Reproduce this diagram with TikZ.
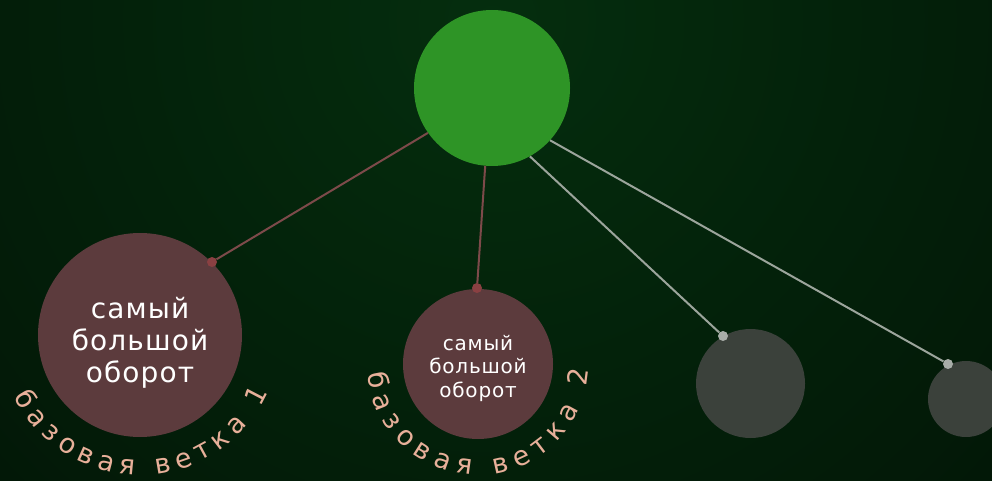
\documentclass[tikz,border=0pt]{standalone}
\usepackage{fontspec}
\setmainfont{DejaVu Sans}
\newfontfamily\labfont[LetterSpace=4]{DejaVu Sans}
\newfontfamily\arcfont{DejaVu Sans}
\usetikzlibrary{decorations.text,calc}
\definecolor{bgA}{HTML}{052E0E}
\definecolor{bgB}{HTML}{03210A}
\definecolor{bgC}{HTML}{021105}
\definecolor{bgD}{HTML}{010602}
\definecolor{greenc}{HTML}{2E9426}
\definecolor{maroonc}{HTML}{5C3B3D}
\definecolor{grayc}{HTML}{3B413B}
\definecolor{mline}{HTML}{7D4A4A}
\definecolor{mdot}{HTML}{8A4042}
\definecolor{gline}{HTML}{9CA59C}
\definecolor{gdot}{HTML}{A8ADA8}
\definecolor{salm}{HTML}{E8B09A}
\pgfdeclareradialshading{bgshade}{\pgfpoint{0bp}{0bp}}{color(0bp)=(bgA); color(12bp)=(bgB); color(28bp)=(bgC); color(50bp)=(bgD)}
\tikzset{
  circ/.style={circle, inner sep=0pt, draw=none},
  maroonbox/.style={circ, fill=maroonc},
  graybox/.style={circ, fill=grayc},
  whitetext/.style={text=white, align=center, inner sep=0pt},
  mdotbox/.style={circle, inner sep=0pt, minimum size=10pt, fill=mdot},
  gdotbox/.style={circle, inner sep=0pt, minimum size=10pt, fill=gdot},
  mlink/.style={draw=mline, line width=2pt},
  glink/.style={draw=gline, line width=2pt},
  arctext/.style={decorate, decoration={text along path, text color=salm,
     text={|\arcfont\fontsize{27}{27}\selectfont|#1}, text align={fit to path}}}
}
\begin{document}
\begin{tikzpicture}[x=1pt,y=1pt]
\useasboundingbox (0,0) rectangle (992,480);
\clip (0,0) rectangle (992,480);
\fill[bgD] (0,0) rectangle (992,480);
\shade[shading=bgshade] (492,460) circle[radius=800];

% nodes
\node[circ, fill=greenc, minimum size=156pt] (top) at (492,392) {};
\node[maroonbox, minimum size=204pt] (b1) at (140,145) {};
\node[maroonbox, minimum size=150pt] (b2) at (478,116) {};
\node[graybox, minimum size=109pt] (g1) at (750.5,96.5) {};
\node[graybox, minimum size=76pt] (g2) at (966,81) {};
\node[whitetext, font=\labfont\fontsize{28}{32}\selectfont] (t1) at ($(b1)+(0,-8)$) {самый\\большой\\оборот};
\node[whitetext, font=\labfont\fontsize{20}{23.5}\selectfont] (t2) at ($(b2)+(0,-4)$) {самый\\большой\\оборот};

% dots
\node[mdotbox] (d1) at (212,218) {};
\node[mdotbox] (d2) at (477,192) {};
\node[gdotbox] (d3) at (723,144) {};
\node[gdotbox] (d4) at (948,116) {};

% connectors
\draw[mlink] (d1) -- (top.215.7);
\draw[mlink] (d2) -- (top.265);
\draw[glink] (d3) -- (top.299.2);
\draw[glink] (d4) -- (top.318);

% curved labels
\path[arctext={базовая ветка 1}] ($(b1)+(206:140)$) arc[start angle=206, end angle=336, radius=140];
\path[arctext={базовая ветка 2}] ($(b2)+(185:111)$) arc[start angle=185, end angle=357, radius=111];
\end{tikzpicture}
\end{document}
